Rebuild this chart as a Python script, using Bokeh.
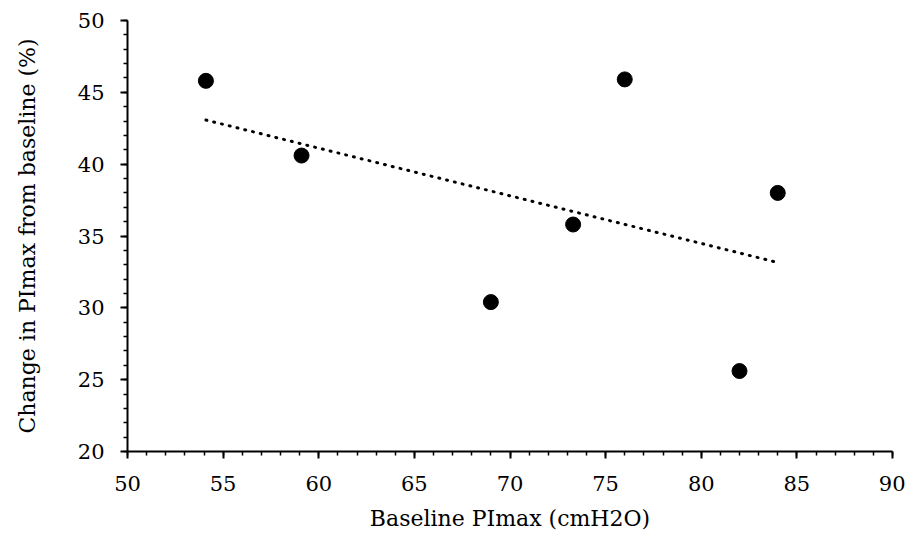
import numpy as np
from bokeh.plotting import figure
from bokeh.models import ColumnDataSource, FixedTicker, Range1d
from bokeh.embed import file_html
from bokeh.resources import INLINE

# data
baseline_pimax = [54.1, 59.1, 69.0, 73.3, 76.0, 84.0, 82.0]
change_pct = [45.8, 40.6, 30.4, 35.8, 45.9, 38.0, 25.6]
x_ticks = [50, 55, 60, 65, 70, 75, 80, 85, 90]
y_ticks = [20, 25, 30, 35, 40, 45, 50]
x_title = "Baseline PImax (cmH2O)"
y_title = "Change in PImax from baseline (%)"

FONT = "DejaVu Serif"

p = figure(width=905, height=534, output_backend="svg", toolbar_location=None,
           x_range=Range1d(50, 90), y_range=Range1d(20, 50),
           min_border_left=127, min_border_right=13, min_border_top=20,
           min_border_bottom=83)
p.outline_line_color = None
p.xgrid.grid_line_color = None
p.ygrid.grid_line_color = None

# linear trend line computed from the data
xs = np.array(baseline_pimax)
ys = np.array(change_pct)
slope, intercept = np.polyfit(xs, ys, 1)
tx = np.array([xs.min(), xs.max()])
p.line(tx, slope * tx + intercept, line_color="black", line_width=3,
       line_dash="1 7", line_cap="round")

src = ColumnDataSource(dict(x=baseline_pimax, y=change_pct))
p.scatter("x", "y", source=src, size=15, fill_color="black", line_color="black")

minor_x = [v for v in range(50, 91)]
minor_y = [v for v in range(20, 51)]
p.xaxis.ticker = FixedTicker(ticks=x_ticks, minor_ticks=minor_x)
p.yaxis.ticker = FixedTicker(ticks=y_ticks, minor_ticks=minor_y)

for ax in (p.xaxis, p.yaxis):
    ax.axis_line_color = "black"
    ax.axis_line_width = 2
    ax.major_tick_line_color = "black"
    ax.major_tick_line_width = 2
    ax.minor_tick_line_color = "black"
    ax.minor_tick_line_width = 1.5
    ax.major_tick_in = 0
    ax.major_tick_out = 7
    ax.minor_tick_in = 0
    ax.minor_tick_out = 4
    ax.major_label_text_font = FONT
    ax.major_label_text_font_size = "21px"
    ax.major_label_text_color = "black"
    ax.axis_label_text_font = FONT
    ax.axis_label_text_font_size = "22px"
    ax.axis_label_text_font_style = "normal"
    ax.axis_label_text_color = "black"

p.xaxis.axis_label = x_title
p.yaxis.axis_label = y_title
p.xaxis.major_label_standoff = 17
p.yaxis.major_label_standoff = 16
p.xaxis.axis_label_standoff = 12
p.yaxis.axis_label_standoff = 35

open("out.html", "w").write(file_html(p, INLINE))
